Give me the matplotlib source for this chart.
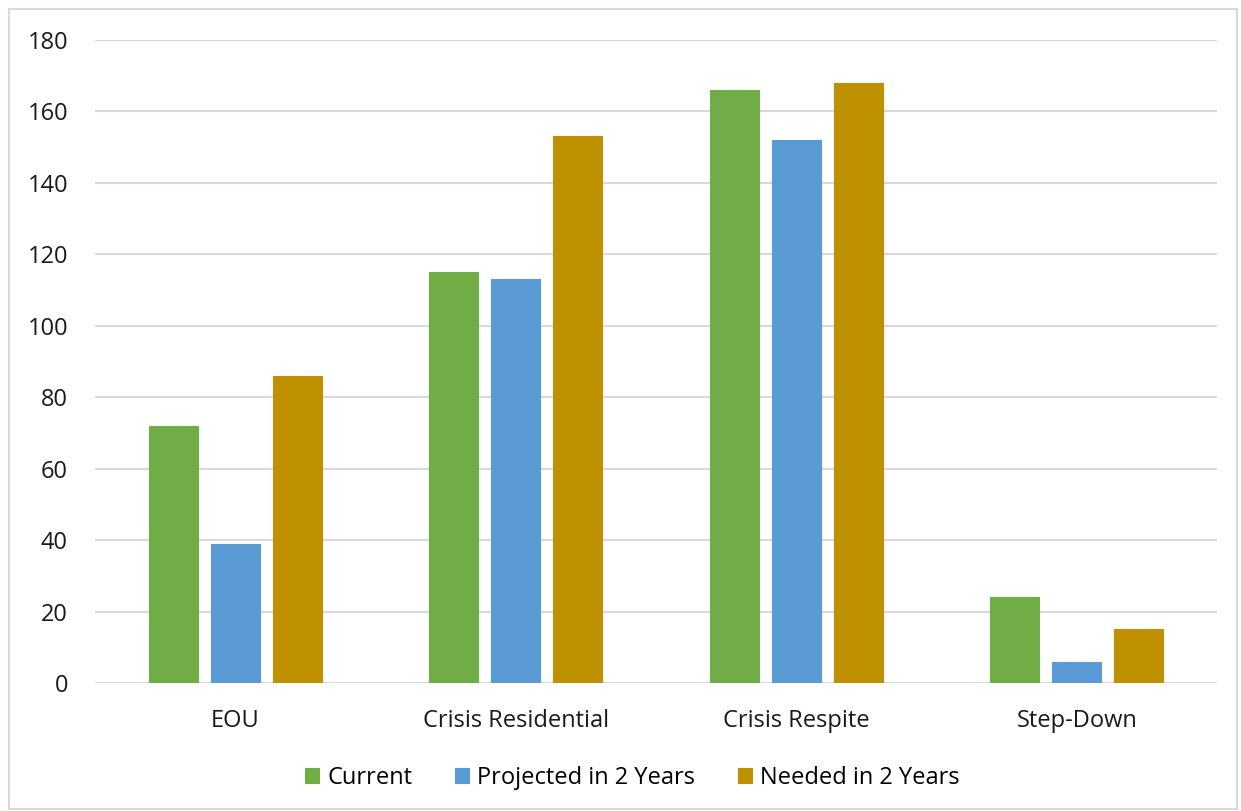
import numpy as np
import matplotlib
matplotlib.use("Agg")
import matplotlib.pyplot as plt
from matplotlib.patches import Rectangle

categories = ["EOU", "Crisis Residential", "Crisis Respite", "Step-Down"]
current = [72, 115, 166, 24]
projected = [39, 113, 152, 6]
needed = [86, 153, 168, 15]

series = [("Current", current, "#70AD47"),
          ("Projected in 2 Years", projected, "#5B9BD5"),
          ("Needed in 2 Years", needed, "#BF9000")]

plt.rcParams["font.family"] = ["Open Sans", "DejaVu Sans"]

fig = plt.figure(figsize=(12.41, 8.11), dpi=100)
ax = fig.add_axes([0.0766, 0.1578, 0.9041, 0.7929])

# light frame around the whole chart
fig.patches.append(Rectangle((0.007, 0.003), 0.99, 0.986, transform=fig.transFigure,
                             fill=False, edgecolor="#D9D9D9", linewidth=1.5))

x = np.arange(len(categories))
width = 0.175
step = 0.221
for i, (name, vals, color) in enumerate(series):
    ax.bar(x + (i - 1) * step, vals, width, color=color, label=name,
           edgecolor=color, linewidth=0.8, zorder=3)

ax.set_xlim(-0.5, len(categories) - 0.5)
ax.set_ylim(0, 180)
ax.set_yticks(range(0, 181, 20))
ax.set_xticks(x)
ax.set_xticklabels(categories)
ax.grid(axis="y", color="#D9D9D9", linewidth=1.5, zorder=0)
for s in ax.spines.values():
    s.set_visible(False)
ax.tick_params(axis="both", length=0, labelsize=17, colors="#1a1a1a")
ax.tick_params(axis="y", pad=19.5)
ax.tick_params(axis="x", pad=19)

ax.legend(loc="center", bbox_to_anchor=(0.479, -0.148), ncol=3, frameon=False,
          fontsize=17, handlelength=0.6, handleheight=0.6, handletextpad=0.35,
          columnspacing=1.8)

fig.savefig("out.png", dpi=100)
